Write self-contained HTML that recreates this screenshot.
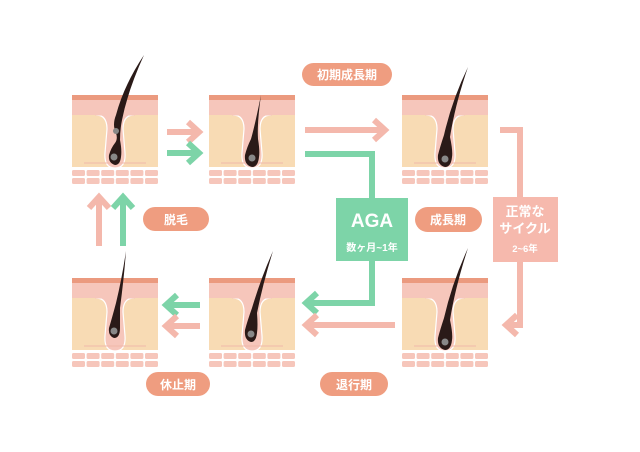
<!DOCTYPE html>
<html><head><meta charset="utf-8"><style>
html,body{margin:0;padding:0;background:#fff;}
svg{display:block}
text{font-family:"Liberation Sans","Noto Sans CJK JP",sans-serif;font-weight:bold;fill:#fff;}
</style></head><body>
<svg width="640" height="452" viewBox="0 0 640 452" xmlns="http://www.w3.org/2000/svg">
<defs>
<g id="tile">
<rect x="0" y="0" width="86" height="5" fill="#eb9a7f"/>
<rect x="0" y="5" width="86" height="15" fill="#f6c6bb"/>
<rect x="0" y="20" width="86" height="52" fill="#f8dbb4"/>
<path d="M24 20 Q35 20 35 34 L33 58 Q32 73 43 73 Q54 73 53 58 L51 34 Q51 20 62 20" fill="#f6c6bb" stroke="#fff" stroke-width="1.2"/>
<rect x="23" y="17" width="40" height="3.5" fill="#f6c6bb"/>
<line x1="12" y1="68" x2="74" y2="68" stroke="#f0b8aa" stroke-width="1"/>
<g fill="#f6c6bb">
<rect x="0" y="75" width="13" height="6" rx="1.5"/><rect x="14.6" y="75" width="13" height="6" rx="1.5"/><rect x="29.2" y="75" width="13" height="6" rx="1.5"/><rect x="43.8" y="75" width="13" height="6" rx="1.5"/><rect x="58.4" y="75" width="13" height="6" rx="1.5"/><rect x="73" y="75" width="13" height="6" rx="1.5"/>
<rect x="0" y="83" width="13" height="6" rx="1.5"/><rect x="14.6" y="83" width="13" height="6" rx="1.5"/><rect x="29.2" y="83" width="13" height="6" rx="1.5"/><rect x="43.8" y="83" width="13" height="6" rx="1.5"/><rect x="58.4" y="83" width="13" height="6" rx="1.5"/><rect x="73" y="83" width="13" height="6" rx="1.5"/>
</g>
</g>
</defs>

<g transform="translate(72,95)"><use href="#tile"/>
<path d="M43 70 Q36 68 37 60 Q39 53 43 48 Q46 44 44 38 Q40 30 44 20 Q52 -10 72 -40 Q56 -5 50 25 Q48 35 48 45 Q50 55 49 62 Q48 70 43 70 Z" fill="#2a1a18"/>
<circle cx="42" cy="62" r="3.5" fill="#888"/><circle cx="44" cy="36" r="3" fill="#888"/></g>
<g transform="translate(209,95)"><use href="#tile"/>
<path d="M43 72 Q35 70 36 60 Q38 52 42 44 Q46 30 52 0 Q48 28 49 44 Q51 56 50 62 Q49 72 43 72 Z" fill="#2a1a18"/><circle cx="43" cy="63" r="3.5" fill="#888"/></g>
<g transform="translate(402,95)"><use href="#tile"/>
<path d="M43 72 Q35 70 36 60 Q38 52 42 40 Q50 5 66 -28 Q53 10 48 42 Q51 56 50 62 Q49 72 43 72 Z" fill="#2a1a18"/><circle cx="43" cy="64" r="3.5" fill="#888"/></g>
<g transform="translate(72,278)"><use href="#tile"/>
<path d="M42 60 Q36 58 37 50 Q40 40 44 25 Q50 0 54 -27 Q52 0 48 30 Q48 42 48 50 Q48 60 42 60 Z" fill="#2a1a18"/><circle cx="42" cy="53" r="3.5" fill="#888"/></g>
<g transform="translate(209,278)"><use href="#tile"/>
<path d="M42 64 Q35 62 36 52 Q38 44 43 30 Q52 0 64 -27 Q54 5 48 35 Q49 48 48 55 Q47 64 42 64 Z" fill="#2a1a18"/><circle cx="42" cy="56" r="3.5" fill="#888"/></g>
<g transform="translate(402,278)"><use href="#tile"/>
<path d="M43 72 Q35 70 36 60 Q38 52 42 40 Q50 5 66 -30 Q53 10 48 42 Q51 56 50 62 Q49 72 43 72 Z" fill="#2a1a18"/><circle cx="43" cy="64" r="3.5" fill="#888"/></g>

<g fill="none" stroke-width="6" stroke-linejoin="miter">
<path d="M167 132 H198 M188 122 L199 132 L188 142" stroke="#f4b8ac"/>
<path d="M167 153 H198 M188 143 L199 153 L188 163" stroke="#7dd4a8"/>
<path d="M200 305 H167 M177 295 L166 305 L177 315" stroke="#7dd4a8"/>
<path d="M200 326 H167 M177 316 L166 326 L177 336" stroke="#f4b8ac"/>
<path d="M99 246 V198 M89 208 L99 197 L109 208" stroke="#f4b8ac"/>
<path d="M123 246 V198 M113 208 L123 197 L133 208" stroke="#7dd4a8"/>
<path d="M305 130 H384 M374 120 L385 130 L374 140" stroke="#f4b8ac"/>
<path d="M305 154 H372 V200" stroke="#7dd4a8"/>
<path d="M372 260 V303 H307 M317 293 L306 303 L317 313" stroke="#7dd4a8"/>
<path d="M500 130 H520 V198" stroke="#f4b8ac"/>
<path d="M520 260 V325 H507 M517 315 L506 325 L517 335" stroke="#f4b8ac"/>
<path d="M395 325 H307 M317 315 L306 325 L317 335" stroke="#f4b8ac"/>
</g>

<rect x="336" y="198" width="72" height="63" fill="#7dd4a8"/>
<text x="372" y="227" font-size="19" text-anchor="middle">AGA</text>
<text x="372" y="251" font-size="10" text-anchor="middle">数ヶ月~1年</text>
<rect x="493" y="197" width="65" height="65" fill="#f6b9ad"/>
<text x="525" y="216" font-size="13" text-anchor="middle">正常な</text>
<text x="525" y="233" font-size="13" text-anchor="middle">サイクル</text>
<text x="525" y="252" font-size="9.5" text-anchor="middle">2~6年</text>

<g fill="#ef9d80">
<rect x="302" y="63" width="90" height="23" rx="11.5"/>
<rect x="143" y="207" width="66" height="24" rx="12"/>
<rect x="415" y="207" width="67" height="25" rx="12.5"/>
<rect x="146" y="372" width="64" height="24" rx="12"/>
<rect x="320" y="372" width="68" height="24" rx="12"/>
</g>
<text x="347" y="79" font-size="12" text-anchor="middle">初期成長期</text>
<text x="176" y="224" font-size="12" text-anchor="middle">脱毛</text>
<text x="448" y="224" font-size="12" text-anchor="middle">成長期</text>
<text x="178" y="389" font-size="12" text-anchor="middle">休止期</text>
<text x="354" y="389" font-size="12" text-anchor="middle">退行期</text>
</svg>
</body></html>
